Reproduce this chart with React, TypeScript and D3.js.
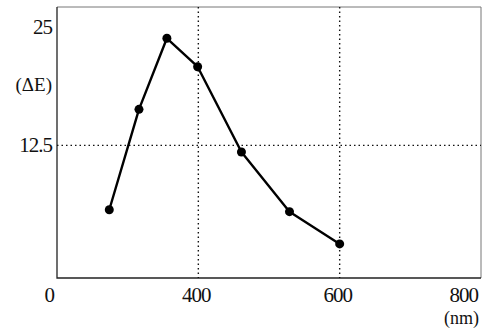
import React, { useEffect, useRef } from 'react';
import * as d3 from 'd3';

// wavelength (nm) and colour difference (ΔE)
const wavelengths = [148, 232, 311, 398, 461, 529, 600];
const deltaE = [5.7, 16.3, 23.8, 20.8, 11.8, 5.5, 2.1];
const xTicks = [0, 400, 600, 800];
const yTicks = [12.5, 25];
const xGrid = [400, 600];
const yGrid = [12.5];

function App() {
  const ref = useRef<SVGSVGElement>(null);

  useEffect(() => {
    const svg = d3.select(ref.current);
    svg.selectAll('*').remove();

    const left = 57, right = 481, top = 7, bottom = 278;

    // the axis is broken: ticks are evenly spaced, so use a piecewise scale
    const x = d3.scaleLinear()
      .domain(xTicks)
      .range([0, 1, 2, 3].map(i => left + (right - left) * i / 3));

    const y = d3.scaleLinear()
      .domain([-1.5, 27.1])
      .range([bottom, top]);

    const font = '"Liberation Serif", "DejaVu Serif", serif';

    // frame (top / right are faint)
    svg.append('path')
      .attr('d', `M${left},${top}H${right}V${bottom}`)
      .attr('fill', 'none')
      .attr('stroke', '#777')
      .attr('stroke-width', 1);
    svg.append('path')
      .attr('d', `M${left},${top}V${bottom}H${right}`)
      .attr('fill', 'none')
      .attr('stroke', '#222')
      .attr('stroke-width', 1.3);

    // dotted grid
    svg.selectAll('.vgrid')
      .data(xGrid)
      .enter().append('line')
      .attr('x1', d => x(d)).attr('x2', d => x(d))
      .attr('y1', top).attr('y2', bottom)
      .attr('stroke', '#111')
      .attr('stroke-width', 1.4)
      .attr('stroke-dasharray', '1.5,3');

    svg.selectAll('.hgrid')
      .data(yGrid)
      .enter().append('line')
      .attr('x1', left).attr('x2', right)
      .attr('y1', d => y(d)).attr('y2', d => y(d))
      .attr('stroke', '#111')
      .attr('stroke-width', 1.4)
      .attr('stroke-dasharray', '1.5,3');

    // x tick labels
    svg.selectAll('.xlab')
      .data(xTicks)
      .enter().append('text')
      .attr('x', (d, i) => i === 0 ? x(d) - 3 : i === xTicks.length - 1 ? x(d) - 3 : x(d) - 2)
      .attr('y', 302)
      .attr('text-anchor', (d, i) => (i === 0 || i === xTicks.length - 1) ? 'end' : 'middle')
      .attr('font-family', font)
      .attr('font-size', 21)
      .attr('letter-spacing', -1)
      .attr('fill', '#111')
      .text(d => String(d));

    // y tick labels
    svg.selectAll('.ylab')
      .data(yTicks)
      .enter().append('text')
      .attr('x', 52)
      .attr('y', d => y(d) + 7)
      .attr('text-anchor', 'end')
      .attr('font-family', font)
      .attr('font-size', 21)
      .attr('letter-spacing', -1)
      .attr('fill', '#111')
      .text(d => String(d));

    // unit labels
    svg.append('text')
      .attr('x', 52)
      .attr('y', 91)
      .attr('text-anchor', 'end')
      .attr('font-family', font)
      .attr('font-size', 19)
      .attr('fill', '#111')
      .text('(ΔE)');

    svg.append('text')
      .attr('x', 479)
      .attr('y', 324)
      .attr('text-anchor', 'end')
      .attr('font-family', font)
      .attr('font-size', 18)
      .attr('fill', '#111')
      .text('(nm)');

    const pts = wavelengths.map((w, i) => ({ w, e: deltaE[i] }));

    const line = d3.line<{ w: number; e: number }>()
      .x(d => x(d.w))
      .y(d => y(d.e));

    svg.append('path')
      .datum(pts)
      .attr('fill', 'none')
      .attr('stroke', '#000')
      .attr('stroke-width', 2.4)
      .attr('stroke-linejoin', 'round')
      .attr('d', line);

    svg.selectAll('.dot')
      .data(pts)
      .enter().append('circle')
      .attr('cx', d => x(d.w))
      .attr('cy', d => y(d.e))
      .attr('r', 4.5)
      .attr('fill', '#000');
  }, []);

  return (
    <svg
      ref={ref}
      width={484}
      height={329}
      style={{ position: 'absolute', left: 0, top: 0, background: '#fff' }}
    />
  );
}

export default App;
